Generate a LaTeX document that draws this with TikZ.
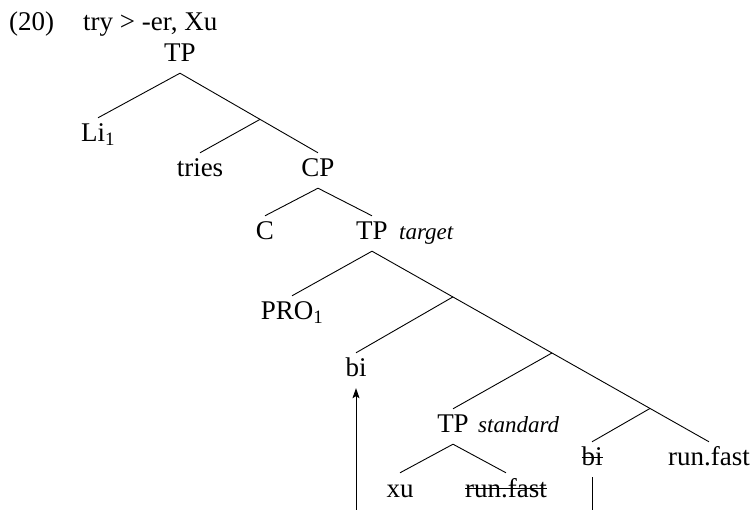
\documentclass[tikz,border=0pt]{standalone}
\usepackage{fontspec}
\setmainfont{Liberation Serif}
\usetikzlibrary{calc,arrows.meta}
\newcommand\strk[1]{\setbox0\hbox{#1}\rlap{\rule[0.3em]{\wd0}{0.04em}}\box0}
\tikzset{
  lab/.style={anchor=base, inner xsep=0pt, inner ysep=6pt, text height=18pt, text depth=5pt, font=\fontsize{27}{32}\selectfont},
  note/.style={anchor=base west, inner sep=0pt, font=\fontsize{23}{28}\selectfont\itshape},
  head/.style={anchor=base west, inner sep=0pt, font=\fontsize{27}{32}\selectfont},
  branch/.style={line width=0.9pt},
  move/.style={line width=0.9pt, -{Stealth[length=10pt,width=7pt,inset=2pt]}}
}
\begin{document}
\begin{tikzpicture}[x=1pt,y=-1pt]
\useasboundingbox (0,0) rectangle (750,510);
\clip (0,0) rectangle (750,510);
% header
\node[head] (num) at (9,31) {(20)};
\node[head] (title) at (83,31) {try > -er, Xu};
% tree nodes
\node[lab] (tp0) at (180,62) {TP};
\node[lab] (li) at (98,142) {Li\textsubscript{1}};
\node[lab] (tries) at (200,177) {tries};
\node[lab] (cp) at (318,177) {CP};
\node[lab] (c) at (265,240) {C};
\node[lab] (tpt) at (372,240) {TP};
\node[note] (target) at (399,240) {target};
\node[lab] (pro) at (292,320) {PRO\textsubscript{1}};
\node[lab] (bi) at (356,377) {bi};
\node[lab] (tps) at (453,433) {TP};
\node[note] (standard) at (478,433) {standard};
\node[lab] (bis) at (592,466) {\strk{bi}};
\node[lab] (rf) at (709,466) {run.fast};
\node[lab] (xu) at (400,497) {xu};
\node[lab] (rfs) at (506,497) {\strk{run.fast}};
% branch points
\coordinate (b1) at ($(tp0.south)!0.58!(cp.north)$);
\coordinate (b2) at ($(tpt.south)!0.24!(rf.north)$);
\coordinate (b3) at ($(tpt.south)!0.534!(rf.north)$);
\coordinate (b4) at ($(tpt.south)!0.825!(rf.north)$);
% branches
\draw[branch] (tp0.south) -- (li.north);
\draw[branch] (tp0.south) -- (b1) -- (cp.north);
\draw[branch] (b1) -- (tries.north);
\draw[branch] (cp.south) -- (c.north);
\draw[branch] (cp.south) -- (tpt.north);
\draw[branch] (tpt.south) -- (pro.north);
\draw[branch] (tpt.south) -- (b2) -- (b3) -- (b4) -- (rf.north);
\draw[branch] (b2) -- (bi.north);
\draw[branch] (b3) -- (tps.north);
\draw[branch] (b4) -- (bis.north);
\draw[branch] (tps.south) -- (xu.north);
\draw[branch] (tps.south) -- (rfs.north);
% movement arrow
\coordinate (low) at ($(bis.south)+(0,60)$);
\draw[move] (bis.south) -- (low) -| (bi.south);
\end{tikzpicture}
\end{document}
